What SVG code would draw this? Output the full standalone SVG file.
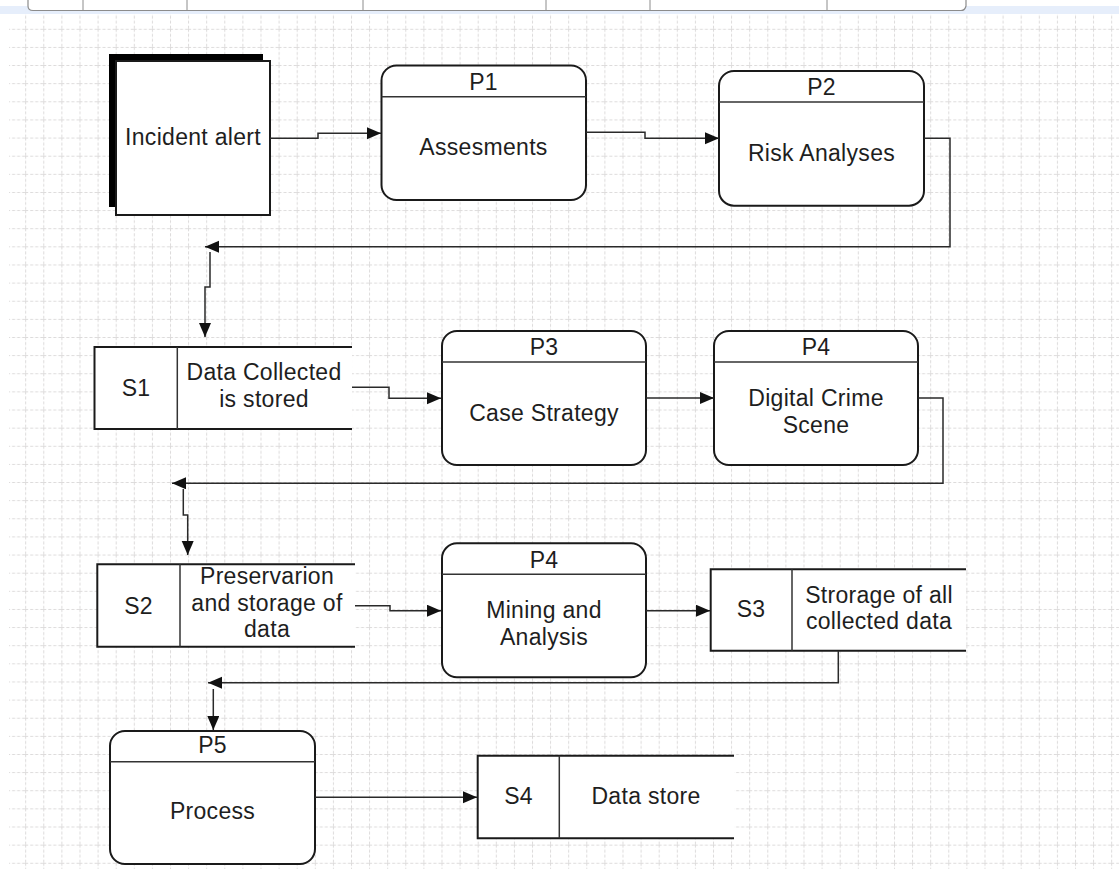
<svg xmlns="http://www.w3.org/2000/svg" width="1119" height="869" viewBox="0 0 1119 869">
  <defs>
    <pattern id="grid" patternUnits="userSpaceOnUse" x="25.2" y="28.8" width="18.1" height="18.13">
      <path d="M0.5 0 V18.13" class="gl"/>
      <path d="M0 0.5 H18.1" class="gl"/>
    </pattern>
    <marker id="arrow" markerUnits="userSpaceOnUse" markerWidth="15" markerHeight="13" refX="14" refY="6" orient="auto">
      <path d="M0 0 L14 6 L0 12 Z" fill="#111"/>
    </marker>
  </defs>
  <style>
    .gl { stroke: #dcdada; stroke-width: 1; stroke-dasharray: 3 2; fill: none; }
    .proc { fill: #fff; stroke: #1a1a1a; stroke-width: 2; }
    .store { fill: #fff; stroke: none; }
    .edge { fill: none; stroke: #1a1a1a; stroke-width: 2; }
    .div { stroke: #333; stroke-width: 1.5; }
    .lbl { font-family: "Liberation Sans", Arial, sans-serif; font-size: 23px; fill: #1e1e1e; text-anchor: middle; letter-spacing: 0.3px; }
    .conn path { fill: none; stroke: #2a2a2a; stroke-width: 1.5; marker-end: url(#arrow); }
    .tab { stroke: #8c8c8c; stroke-width: 1.2; fill: #fff; }
  </style>

  <!-- page background and grid -->
  <rect x="0" y="0" width="1119" height="869" fill="#fff"/>
  <rect x="9" y="14" width="1110" height="855" fill="url(#grid)"/>

  <!-- toolbar strip -->
  <rect x="0" y="6" width="1119" height="8" fill="#e6eefb"/>
  <path class="tab" d="M28 0 V6 Q28 10.5 33 10.5 H961 Q965 10.5 966 6 V0"/>
  <g stroke="#8c8c8c" stroke-width="1">
    <line x1="83" y1="0" x2="83" y2="10"/>
    <line x1="187" y1="0" x2="187" y2="10"/>
    <line x1="363" y1="0" x2="363" y2="10"/>
    <line x1="546" y1="0" x2="546" y2="10"/>
    <line x1="650" y1="0" x2="650" y2="10"/>
    <line x1="827" y1="0" x2="827" y2="10"/>
  </g>

  <!-- external entity -->
  <g id="incident-alert">
    <rect x="109" y="54" width="154" height="153" fill="#000"/>
    <rect x="116" y="61" width="154" height="154" class="proc" stroke-width="1.5"/>
    <text class="lbl" x="193" y="145">Incident alert</text>
  </g>

  <g id="p1">
    <rect x="381.5" y="65.5" width="204.5" height="134.5" rx="15" class="proc"/>
    <line x1="381.5" y1="96.7" x2="586" y2="96.7" class="div"/>
    <text class="lbl" x="483.5" y="89.5">P1</text>
    <text class="lbl" x="483.5" y="155">Assesments</text>
  </g>

  <g id="p2">
    <rect x="719" y="71" width="205" height="134.7" rx="15" class="proc"/>
    <line x1="719" y1="102" x2="924" y2="102" class="div"/>
    <text class="lbl" x="821.5" y="95">P2</text>
    <text class="lbl" x="821.5" y="161">Risk Analyses</text>
  </g>

  <g id="s1">
    <rect x="94.5" y="347" width="257.5" height="82" class="store"/>
    <path d="M352 347 H94.5 V429 H352" class="edge"/>
    <line x1="177.3" y1="347" x2="177.3" y2="429" class="div"/>
    <text class="lbl" x="136" y="396">S1</text>
    <text class="lbl" x="264" y="379.5">Data Collected</text>
    <text class="lbl" x="264" y="407">is stored</text>
  </g>

  <g id="p3">
    <rect x="442" y="331" width="204" height="134" rx="15" class="proc"/>
    <line x1="442" y1="362" x2="646" y2="362" class="div"/>
    <text class="lbl" x="544" y="355">P3</text>
    <text class="lbl" x="544" y="421">Case Strategy</text>
  </g>

  <g id="p4-scene">
    <rect x="714" y="331" width="204" height="134" rx="15" class="proc"/>
    <line x1="714" y1="362" x2="918" y2="362" class="div"/>
    <text class="lbl" x="816" y="355">P4</text>
    <text class="lbl" x="816" y="406">Digital Crime</text>
    <text class="lbl" x="816" y="433">Scene</text>
  </g>

  <g id="s2">
    <rect x="97.3" y="564.3" width="257.7" height="82.4" class="store"/>
    <path d="M355 564.3 H97.3 V646.7 H355" class="edge"/>
    <line x1="180" y1="564.3" x2="180" y2="646.7" class="div"/>
    <text class="lbl" x="138.5" y="613.5">S2</text>
    <text class="lbl" x="267" y="584">Preservarion</text>
    <text class="lbl" x="267" y="610.7">and storage of</text>
    <text class="lbl" x="267" y="637">data</text>
  </g>

  <g id="p4-mining">
    <rect x="442" y="543.3" width="204" height="134" rx="15" class="proc"/>
    <line x1="442" y1="574.3" x2="646" y2="574.3" class="div"/>
    <text class="lbl" x="544" y="567.5">P4</text>
    <text class="lbl" x="544" y="618">Mining and</text>
    <text class="lbl" x="544" y="645">Analysis</text>
  </g>

  <g id="s3">
    <rect x="710.7" y="569.3" width="255.3" height="81.4" class="store"/>
    <path d="M966 569.3 H710.7 V650.7 H966" class="edge"/>
    <line x1="792" y1="569.3" x2="792" y2="650.7" class="div"/>
    <text class="lbl" x="751" y="617">S3</text>
    <text class="lbl" x="879" y="603">Strorage of all</text>
    <text class="lbl" x="879" y="629">collected data</text>
  </g>

  <g id="p5">
    <rect x="110" y="731" width="205" height="133" rx="15" class="proc"/>
    <line x1="110" y1="761.7" x2="315" y2="761.7" class="div"/>
    <text class="lbl" x="212.5" y="752.5">P5</text>
    <text class="lbl" x="212.5" y="819">Process</text>
  </g>

  <g id="s4">
    <rect x="477.7" y="755.7" width="256.3" height="82.6" class="store"/>
    <path d="M734 755.7 H477.7 V838.3 H734" class="edge"/>
    <line x1="559.3" y1="755.7" x2="559.3" y2="838.3" class="div"/>
    <text class="lbl" x="518.5" y="803.5">S4</text>
    <text class="lbl" x="646" y="803.5">Data store</text>
  </g>

  <!-- data flows -->
  <g id="connectors" class="conn">
    <path d="M270 138.3 H318 V133.3 H381"/>
    <path d="M586 132.3 H645 V138.3 H719"/>
    <path d="M924 138.3 H950 V246.7 H205"/>
    <path d="M210 252 V287 H205 V337"/>
    <path d="M352 387.3 H389 V398.3 H441"/>
    <path d="M646 398 H714"/>
    <path d="M918 398 H943 V483.3 H172"/>
    <path d="M183.3 489 V515 H187.7 V555"/>
    <path d="M355 605.7 H390 V610.7 H441"/>
    <path d="M646 610.7 H710"/>
    <path d="M838.3 651 V682.7 H208"/>
    <path d="M213.3 689 V730" stroke-width="2.5"/>
    <path d="M315 797.3 H477"/>
  </g>
</svg>
